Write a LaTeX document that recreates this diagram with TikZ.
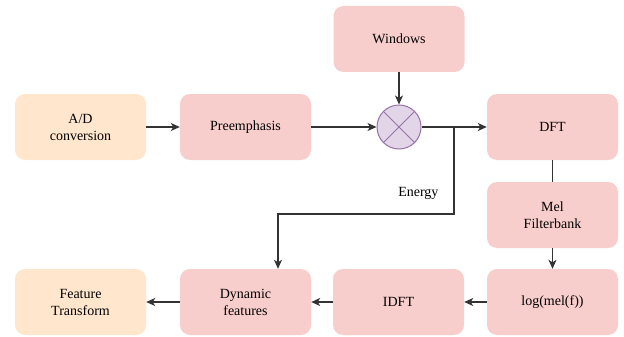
\documentclass[tikz,border=0pt]{standalone}
\usepackage{fontspec}
\setmainfont{Liberation Serif}
\usetikzlibrary{arrows.meta}

\definecolor{orangefill}{HTML}{FFE6CC}
\definecolor{pinkfill}{HTML}{F8CECC}
\definecolor{mixfill}{HTML}{E1D5E7}
\definecolor{mixline}{HTML}{9673A6}
\definecolor{wire}{HTML}{333333}

\tikzset{
  blockbox/.style={rectangle, rounded corners=10pt, minimum width=131pt,
    minimum height=66pt, inner sep=0pt, align=center,
    font=\fontsize{14}{17}\selectfont},
  inbox/.style={blockbox, fill=orangefill},
  procbox/.style={blockbox, fill=pinkfill},
  flow/.style={draw=wire, line width=1.2pt, -{Stealth[length=9pt,width=8pt,inset=2.5pt]}}
}

\begin{document}
\begin{tikzpicture}[x=1pt, y=-1pt]
\useasboundingbox (0,0) rectangle (624,337);
\node[inbox] (ad) at (80.5,127) {A/D\\conversion};
\node[procbox] (pre) at (245.5,127) {Preemphasis};
\node[draw=mixline, fill=mixfill, circle, line width=1pt, minimum size=44pt,
    inner sep=0pt] (mix) at (399,127) {};
\draw[mixline, line width=1pt] (mix.north west) -- (mix.south east)
    (mix.north east) -- (mix.south west);
\node[procbox] (win) at (399,39) {Windows};
\node[procbox] (dft) at (552.5,127) {DFT};
\node[procbox] (mel) at (552.5,215) {Mel\\Filterbank};
\node[procbox] (logm) at (552.5,302) {log(mel(f))};
\node[procbox] (idft) at (398.5,302) {IDFT};
\node[procbox] (dyn) at (245.5,302) {Dynamic\\features};
\node[inbox] (feat) at (80.5,302) {Feature\\Transform};

\coordinate (split) at (454,127);
\coordinate (bend) at (278,214);
\node[anchor=east, font=\fontsize{14}{17}\selectfont] (energy) at (442,193) {Energy};

\draw[flow] (ad) -- (pre);
\draw[flow] (pre) -- (mix);
\draw[flow] (win) -- (mix);
\draw[flow] (mix) -- (dft);
\draw[draw=wire, line width=1.2pt] (dft) -- (mel);
\draw[flow] (mel) -- (logm);
\draw[flow] (logm) -- (idft);
\draw[flow] (idft) -- (dyn);
\draw[flow] (dyn) -- (feat);
\draw[flow] (split) |- (bend) -- (bend |- dyn.north);
\end{tikzpicture}
\end{document}
